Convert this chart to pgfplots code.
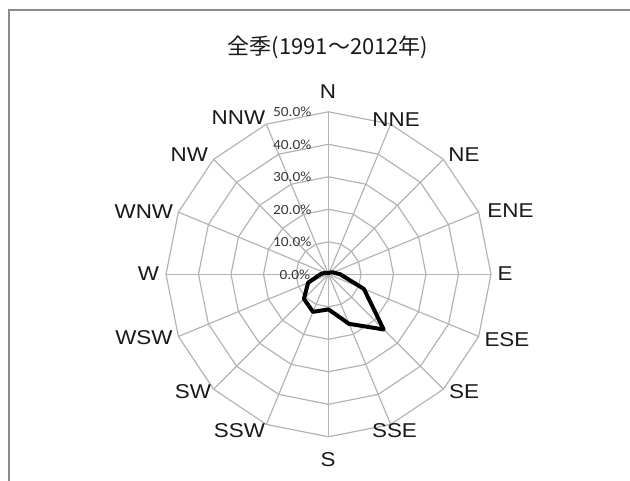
\documentclass[border=0pt]{standalone}
\usepackage{pgfplots}
\pgfplotsset{compat=1.18}
\usepackage{fontspec}
\setmainfont{Liberation Sans}
\newfontfamily\lbl[FakeStretch=1.12]{Liberation Sans}
\newfontfamily\tickf[FakeStretch=1.1]{Carlito}
\newfontfamily\cjk{Noto Sans CJK JP}
\definecolor{gridc}{RGB}{180,180,180}
\definecolor{framec}{RGB}{140,140,140}
\definecolor{tickc}{RGB}{55,55,55}
\definecolor{lblc}{RGB}{25,25,25}
\tikzset{
  dl/.style={text=lblc, inner sep=0, font=\lbl\fontsize{20bp}{22bp}\selectfont},
  tl/.style={text=tickc, inner sep=0, anchor=east, font=\tickf\fontsize{14bp}{16bp}\selectfont},
}
\pgfplotsset{gridline/.style={gridc, line width=1.2bp, no marks, data cs=polar}}
\begin{document}
\begin{tikzpicture}[x=1bp,y=1bp]
\useasboundingbox (0,0) rectangle (630,481);
\draw[framec, line width=2bp] (8.5,0) -- (8.5,471) -- (631,471);
\node[text=lblc, inner sep=0] at (328,434) {\cjk\fontsize{22bp}{26bp}\selectfont 全季(1991～2012年)};
\begin{axis}[
  at={(328.5bp,206.7bp)}, anchor=origin,
  x=3.25bp, y=3.25bp,
  xmin=-60, xmax=60, ymin=-60, ymax=60,
  hide axis, clip=false,
]
% spokes
\pgfplotsinvokeforeach{90,67.5,45,22.5,0,-22.5,-45,-67.5,-90,-112.5,-135,-157.5,180,157.5,135,112.5}{
  \addplot[gridline] coordinates {(#1,0) (#1,50)};
}
% rings
\pgfplotsinvokeforeach{10,20,30,40,50}{
  \addplot[gridline] coordinates {(90,#1) (67.5,#1) (45,#1) (22.5,#1) (0,#1) (-22.5,#1) (-45,#1) (-67.5,#1) (-90,#1) (-112.5,#1) (-135,#1) (-157.5,#1) (180,#1) (157.5,#1) (135,#1) (112.5,#1) (90,#1)};
}
% data: angle (deg, math), frequency (%)
\addplot[black, line width=4bp, line join=round, no marks, data cs=polar] table {
ang val
90 0.3
67.5 0.5
45 0.8
22.5 1.5
0 3.6
-22.5 11.8
-45 24.0
-67.5 16.5
-90 10.8
-112.5 12.5
-135 10.7
-157.5 6.8
180 2.5
157.5 1.2
135 0.6
112.5 0.4
90 0.3
67.5 0.5
};
% radial tick labels
\node[tl] at (axis cs:-5.2,50) {50.0\%};
\node[tl] at (axis cs:-5.2,40) {40.0\%};
\node[tl] at (axis cs:-5.2,30) {30.0\%};
\node[tl] at (axis cs:-5.2,20) {20.0\%};
\node[tl] at (axis cs:-5.2,10) {10.0\%};
\node[tl] at (axis cs:-5.6,0) {0.0\%};
% direction labels
\node[dl] at (axis cs:-0.15,56.1) {N};
\node[dl] at (axis cs:20.8,47.5) {NNE};
\node[dl] at (axis cs:41.7,36.7) {NE};
\node[dl] at (axis cs:56.0,19.5) {ENE};
\node[dl] at (axis cs:54.3,0.1) {E};
\node[dl] at (axis cs:54.9,-20.2) {ESE};
\node[dl] at (axis cs:41.7,-36.2) {SE};
\node[dl] at (axis cs:20.3,-48.2) {SSE};
\node[dl] at (axis cs:-0.15,-57.1) {S};
\node[dl] at (axis cs:-27.4,-48.2) {SSW};
\node[dl] at (axis cs:-41.7,-36.2) {SW};
\node[dl] at (axis cs:-56.8,-19.6) {WSW};
\node[dl] at (axis cs:-55.4,0.1) {W};
\node[dl] at (axis cs:-56.8,19.2) {WNW};
\node[dl] at (axis cs:-42.8,36.7) {NW};
\node[dl] at (axis cs:-27.7,48.1) {NNW};
\end{axis}
\end{tikzpicture}
\end{document}
